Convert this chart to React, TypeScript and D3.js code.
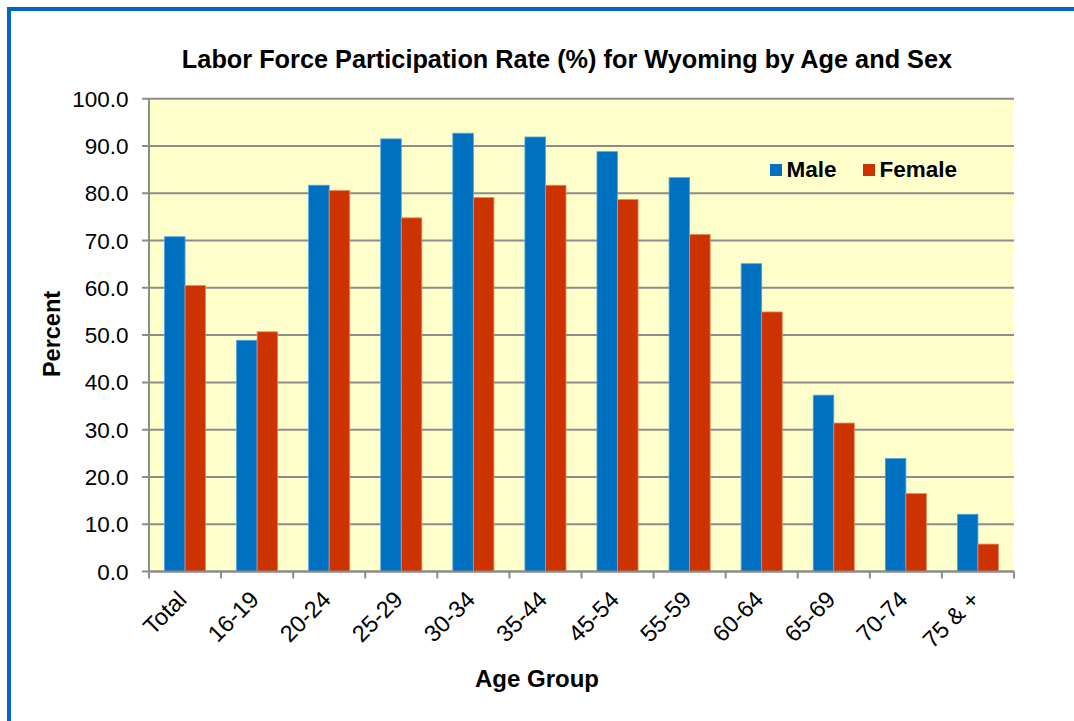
import React from "react";
import * as d3 from "d3";

const categories = ["Total", "16-19", "20-24", "25-29", "30-34", "35-44", "45-54", "55-59", "60-64", "65-69", "70-74", "75 & +"];
const maleValues = [70.8, 48.9, 81.7, 91.5, 92.7, 91.9, 88.8, 83.3, 65.1, 37.3, 23.9, 12.1];
const femaleValues = [60.5, 50.7, 80.6, 74.8, 79.1, 81.7, 78.7, 71.3, 54.9, 31.4, 16.5, 5.8];
const yTicks = [0, 10, 20, 30, 40, 50, 60, 70, 80, 90, 100];
const seriesNames = ["Male", "Female"];

const W = 1074;
const H = 721;
const plot = { left: 149, right: 1014, top: 98.7, bottom: 571.5 };
const FONT = "'Liberation Sans', Arial, Helvetica, sans-serif";
const colors = ["#0070C0", "#CC3300"];
const strokes = ["#4FA3DC", "#EE8A64"];

export default function App() {
  const x = d3.scaleBand<string>().domain(categories).range([plot.left, plot.right]).padding(0);
  const y = d3.scaleLinear().domain([0, 100]).range([plot.bottom, plot.top]);
  const bw = x.bandwidth();
  const barW = bw * 0.285;
  const off = bw * 0.215;
  const series = [maleValues, femaleValues];

  return (
    <svg width={W} height={H} style={{ position: "absolute", left: 0, top: 0, display: "block", background: "#fff" }}>
      <rect x={plot.left} y={plot.top} width={plot.right - plot.left} height={plot.bottom - plot.top} fill="#FFFFCC" />
      {yTicks.map((t) => (
        <g key={t}>
          <line x1={plot.left - 7} x2={plot.right} y1={y(t)} y2={y(t)} stroke="#8C8C8C" strokeWidth={2} />
          <text x={128.5} y={y(t)} dy="0.36em" textAnchor="end" fontFamily={FONT} fontSize={22.5} fill="#000">
            {t.toFixed(1)}
          </text>
        </g>
      ))}
      {series.map((vals, si) =>
        categories.map((c, i) => (
          <rect
            key={si + "-" + c}
            x={(x(c) as number) + off + si * barW}
            y={y(vals[i])}
            width={barW}
            height={y(0) - y(vals[i])}
            fill={colors[si]}
            stroke={strokes[si]}
            strokeWidth={0.8}
          />
        ))
      )}
      <line x1={plot.left} x2={plot.left} y1={plot.top} y2={plot.bottom} stroke="#8C8C8C" strokeWidth={2} />
      <line x1={plot.left} x2={plot.right} y1={plot.bottom} y2={plot.bottom} stroke="#8C8C8C" strokeWidth={2} />
      {categories.concat(["__end"]).map((c, i) => {
        const xx = plot.left + i * bw;
        return <line key={"t" + i} x1={xx} x2={xx} y1={plot.bottom} y2={plot.bottom + 7} stroke="#8C8C8C" strokeWidth={2} />;
      })}
      {categories.map((c) => {
        const cx = (x(c) as number) + bw / 2 + 3;
        const cy = 601;
        return (
          <text key={"l" + c} x={cx} y={cy} transform={`rotate(-45 ${cx} ${cy})`} textAnchor="end" fontFamily={FONT} fontSize={23.5} fill="#000">
            {c}
          </text>
        );
      })}
      <text x={567} y={68} textAnchor="middle" fontFamily={FONT} fontSize={25.3} fontWeight="bold" fill="#000">
        Labor Force Participation Rate (%) for Wyoming by Age and Sex
      </text>
      <text x={537} y={687} textAnchor="middle" fontFamily={FONT} fontSize={24} fontWeight="bold" fill="#000">
        Age Group
      </text>
      <text x={60} y={334} transform="rotate(-90 60 334)" textAnchor="middle" fontFamily={FONT} fontSize={23.5} fontWeight="bold" fill="#000">
        Percent
      </text>
      {seriesNames.map((n, i) => {
        const lx = i === 0 ? 770 : 863;
        return (
          <g key={n}>
            <rect x={lx} y={164} width={12} height={12} fill={colors[i]} />
            <text x={lx + 16.5} y={177} fontFamily={FONT} fontSize={22.5} fontWeight="bold" fill="#000">
              {n}
            </text>
          </g>
        );
      })}
      <rect x={9} y={9} width={W + 50} height={H + 50} fill="none" stroke="#0066CC" strokeWidth={4} />
    </svg>
  );
}
